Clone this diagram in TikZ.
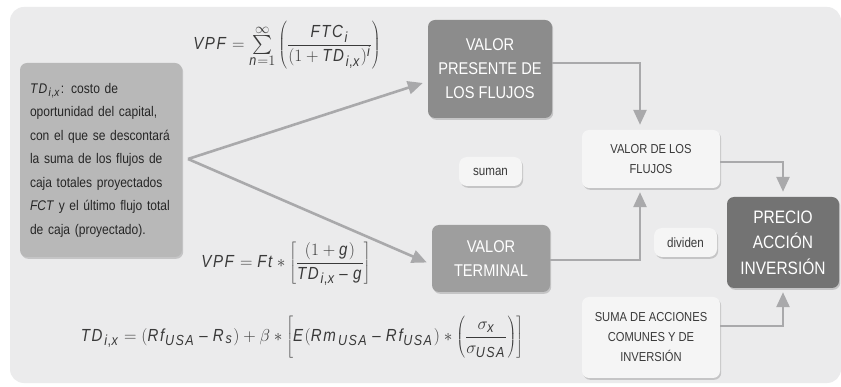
\documentclass[tikz,border=0pt]{standalone}
\usepackage{fontspec}
\setmainfont{Liberation Sans}[FakeStretch=0.86]
\usepackage[italic]{mathastext}
\usepackage{graphicx}
\usepackage{tikz}
\usetikzlibrary{arrows.meta,shadows}

\definecolor{fondo}{HTML}{EBEBEC}
\definecolor{linea}{HTML}{A9A9AB}
\definecolor{textoG}{HTML}{3A3A3A}

% sumatoria grande
\newcommand{\Suma}{\mathop{\vcenter{\hbox{\scalebox{1.9}{$\sum$}}}}\limits}

\begin{document}
\begin{tikzpicture}[x=1pt,y=-1pt]
        \tikzset{caja/.style = {rounded corners=7pt,inner sep=0pt,align=center,
                 drop shadow={shadow xshift=1.2pt,shadow yshift=-1.8pt,opacity=.35}}}
        \tikzset{oscura/.style = {caja,text=white,font=\fontsize{17}{24}\selectfont}}
        \tikzset{clara/.style = {caja,fill=white!96!black,text=textoG,font=\fontsize{13}{20}\selectfont}}
        \tikzset{etiqueta/.style = {caja,fill=white!96!black,text=textoG,font=\fontsize{13.5}{15}\selectfont,
                 minimum width=63pt,minimum height=29pt,rounded corners=8pt}}
        \tikzset{edge/.style = {line width=2.6pt,draw=linea,-{Triangle[length=15pt,width=13pt]}}}
        \tikzset{formula/.style = {text=textoG,font=\fontsize{17.5}{21}\selectfont}}
        \useasboundingbox[fill=white] (0,0) rectangle (841,387);
        \fill[fondo,rounded corners=14pt] (10,7) rectangle (841,383);
        % cajas
        \node[caja,fill=black!28,text=black!85,minimum width=162pt,minimum height=194pt,
              text width=142pt,align=left,font=\fontsize{14}{23.5}\selectfont] (costo) at (101,160)
              {$TD_{i,x}$: costo de\\oportunidad del capital,\\con el que se descontará\\la suma de los flujos de\\caja totales proyectados\\\textit{FCT} y el último flujo total\\de caja (proyectado).};
        \node[oscura,fill=black!45,minimum width=124pt,minimum height=98pt] (vpf) at (490,69)
              {VALOR\\PRESENTE DE\\LOS FLUJOS};
        \node[oscura,fill=black!38,minimum width=118pt,minimum height=67pt] (vt) at (491,258.5)
              {VALOR\\TERMINAL};
        \node[clara,minimum width=138pt,minimum height=58pt] (vflujos) at (651,159)
              {VALOR DE LOS\\FLUJOS};
        \node[clara,minimum width=138pt,minimum height=81pt] (suma) at (651,337.5)
              {SUMA DE ACCIONES\\COMUNES Y DE\\INVERSIÓN};
        \node[oscura,fill=black!55,minimum width=112pt,minimum height=91pt,
              font=\fontsize{18}{25.5}\selectfont] (precio) at (783,242.5)
              {PRECIO\\ACCIÓN\\INVERSIÓN};
        \node[etiqueta] (suman) at (490.5,171.5) {suman};
        \node[etiqueta] (dividen) at (685.5,242.5) {dividen};
        % formulas
        \node[formula] (f1) at (287,45)
              {$\displaystyle VPF=\Suma_{n=1}^{\infty}\left(\frac{FTC_i}{(1+TD_{i,x})^{i}}\right)$};
        \node[formula] (f2) at (286,264)
              {$\displaystyle VPF = Ft\ast\left[\frac{(1+g)}{TD_{i,x}-g}\right]$};
        \node[formula] (f3) at (302,337)
              {$\displaystyle TD_{i,x}=(Rf_{USA}-R_s)+\beta\ast\left[E(Rm_{USA}-Rf_{USA})\ast\left(\frac{\sigma_x}{\sigma_{USA}}\right)\right]$};
        % flechas
        \coordinate (vertice) at (188,159);
        \draw[edge] (vertice) -- ([xshift=-5pt,yshift=-14pt]vpf.west);
        \draw[edge] (vertice) -- ([xshift=-5pt,yshift=-4pt]vt.west);
        \draw[edge,shorten >=5pt] ([yshift=6pt]vpf.east) -| ([xshift=-11pt]vflujos.north);
        \draw[edge,shorten >=4pt] ([yshift=-1.5pt]vt.east) -| ([xshift=-11pt]vflujos.south);
        \draw[edge,shorten >=5pt] ([yshift=-3pt]vflujos.east) -| (precio.north);
        \draw[edge,shorten >=4pt] ([yshift=11.5pt]suma.east) -| (precio.south);
        \end{tikzpicture}
\end{document}
